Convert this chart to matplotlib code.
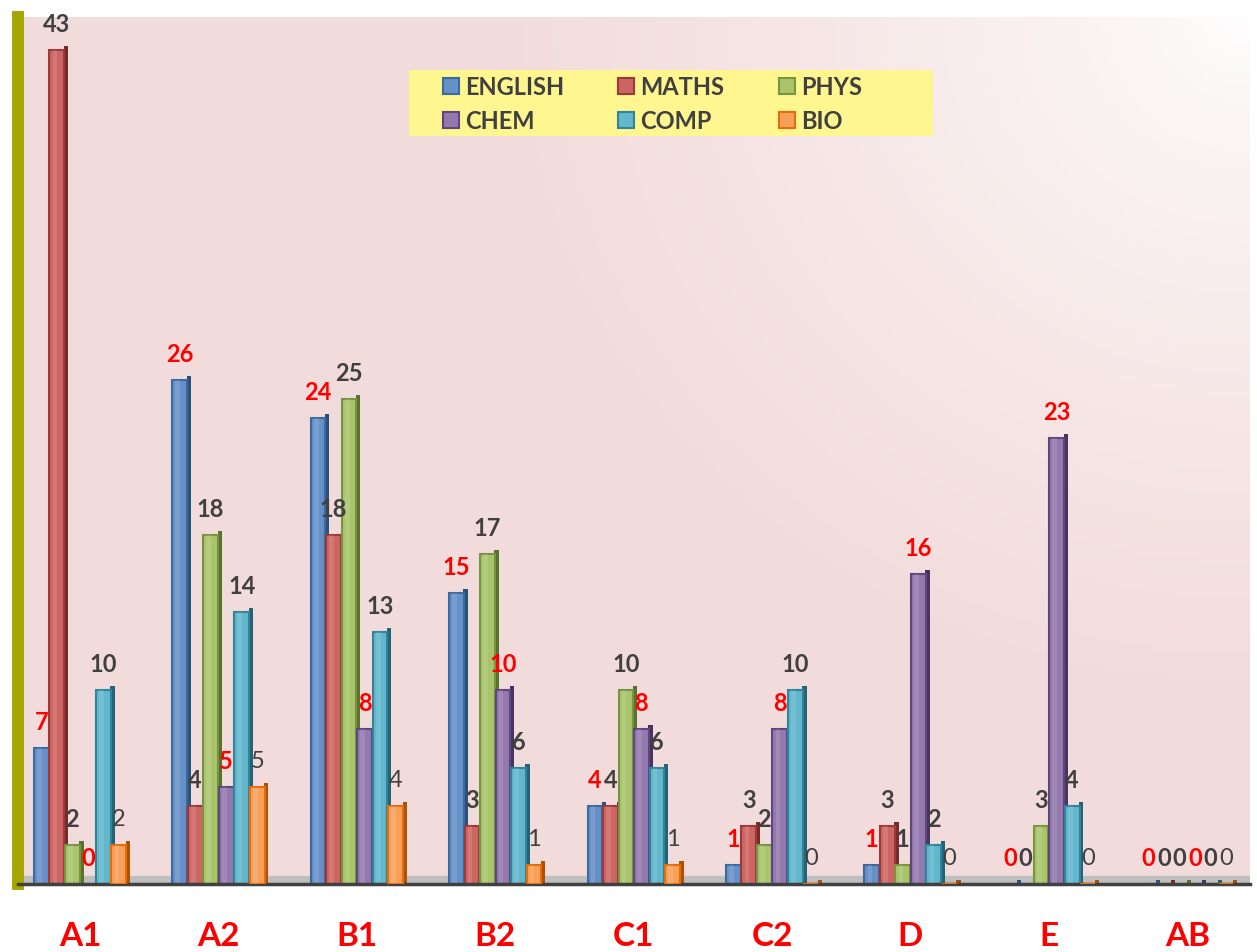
import numpy as np
import matplotlib.pyplot as plt
from matplotlib.lines import Line2D
from matplotlib.patches import Rectangle
from matplotlib.colors import to_rgb

plt.rcParams['font.family'] = ['Lato', 'DejaVu Sans']

grades = ["A1", "A2", "B1", "B2", "C1", "C2", "D", "E", "AB"]
subjects = ["ENGLISH", "MATHS", "PHYS", "CHEM", "COMP", "BIO"]

english = [7, 26, 24, 15, 4, 1, 1, 0, 0]
maths = [43, 4, 18, 3, 4, 3, 3, 0, 0]
phys = [2, 18, 25, 17, 10, 2, 1, 3, 0]
chem = [0, 5, 8, 10, 8, 8, 16, 23, 0]
comp = [10, 14, 13, 6, 6, 10, 2, 4, 0]
bio = [2, 5, 4, 1, 1, 0, 0, 0, 0]
series = [english, maths, phys, chem, comp, bio]

faces = ['#6690c8', '#cd6663', '#a9c46b', '#9379ad', '#62b7cc', '#f8a05a']
edges = ['#3b6aa0', '#9b3a38', '#779540', '#5e4680', '#31849b', '#e46c0a']
label_colors = ['#ff0000', '#404040', '#404040', '#ff0000', '#404040', '#404040']
label_weights = ['bold', 'bold', 'bold', 'bold', 'bold', 'normal']

fig = plt.figure(figsize=(12.57, 9.53), dpi=100)
ax = fig.add_axes([0.0141, 0.0714, 0.980, 0.910])
ax.set_xlim(-0.45, 8.45)
ax.set_ylim(0, 44.7)

# pink background fading to white at top right
ny, nx = 200, 300
gx, gy = np.meshgrid(np.linspace(0, 1, nx), np.linspace(1, 0, ny))
d = np.sqrt(((1 - gx) * 1.3) ** 2 + (1 - gy) ** 2)
t = np.clip(d / 0.8, 0, 1)[..., None] ** 0.7
pink = np.array(to_rgb('#f2dcdb'))
img = (1 - t) * np.ones(3) + t * pink
ax.imshow(img, extent=[0, 1, 0, 1], transform=ax.transAxes, aspect='auto', zorder=0)

# floor
ax.axhspan(0, 0.4, color='#bfbfbf', zorder=1)

x = np.arange(len(grades))
w = 0.112
for i, vals in enumerate(series):
    pos = x + (i - 2.5) * w
    vals = np.array(vals)
    dark = tuple(c * 0.75 for c in to_rgb(edges[i]))
    ax.bar(pos + w * 0.45, vals + 0.2, width=w * 0.28, align='edge', color=dark,
           zorder=2 + i * 0.1)
    ax.bar(pos, vals, width=w * 0.95, color=faces[i], edgecolor=edges[i],
           linewidth=1.5, zorder=2.02 + i * 0.1)
    ax.bar(pos - w * 0.12, vals, width=w * 0.3, color='white', alpha=0.12,
           linewidth=0, zorder=2.05 + i * 0.1)
    for xp, v in zip(pos, vals):
        ax.annotate(str(v), (xp, v), xytext=(0, 19), textcoords='offset points',
                    ha='center', va='center', fontsize=17, color=label_colors[i],
                    fontweight=label_weights[i], zorder=5)

for s in ['top', 'right']:
    ax.spines[s].set_visible(False)
ax.spines['left'].set_color('#a6a600')
ax.spines['left'].set_linewidth(8.6)
ax.spines['bottom'].set_color('#404040')
ax.spines['bottom'].set_linewidth(2.5)
ax.set_yticks([])
ax.set_xticks(x)
ax.set_xticklabels(grades, fontsize=24, fontweight='bold', color='#ff0000')
ax.tick_params(axis='x', length=0, pad=27)

# legend box
fig.patches.append(Rectangle((0.325, 0.856), 0.417, 0.069, transform=fig.transFigure,
                             facecolor='#fff68f', edgecolor='none', zorder=3))
handles = [Line2D([], [], marker='s', linestyle='', markersize=12,
                  markerfacecolor=faces[i], markeredgecolor=edges[i],
                  markeredgewidth=1.5, label=subjects[i]) for i in range(6)]
order = [0, 3, 1, 4, 2, 5]
leg = fig.legend([handles[k] for k in order], [subjects[k] for k in order],
                 ncol=3, loc='upper left', bbox_to_anchor=(0.350, 0.920),
                 frameon=False, handletextpad=0.15, borderpad=0, borderaxespad=0,
                 labelspacing=0.45, handlelength=0.9, columnspacing=2.2,
                 prop={'size': 17, 'weight': 'bold'})
leg.set_zorder(4)
for txt in leg.get_texts():
    txt.set_color('#404040')

fig.savefig('out.png', dpi=100)
